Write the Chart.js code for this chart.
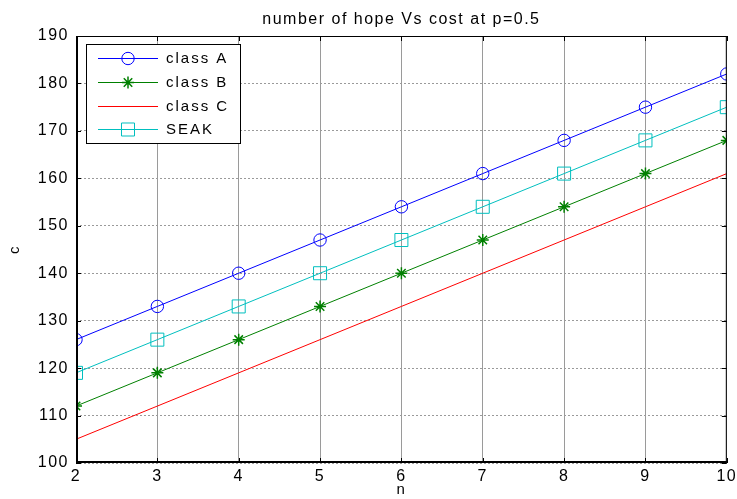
<!DOCTYPE html>
<html>
<head>
<meta charset="utf-8">
<script src="https://cdn.jsdelivr.net/npm/chart.js@4"></script>
<style>
  html, body { margin: 0; padding: 0; background: #fff; }
  #wrap { width: 737px; height: 499px; }
</style>
</head>
<body>
<div id="wrap"><canvas id="cost-chart" width="737" height="499"></canvas></div>
<script>
const hops = [2, 3, 4, 5, 6, 7, 8, 9, 10];
const classA = [126, 133, 140, 147, 154, 161, 168, 175, 182];
const classB = [112, 119, 126, 133, 140, 147, 154, 161, 168];
const classC = [105, 112, 119, 126, 133, 140, 147, 154, 161];
const seak = [119, 126, 133, 140, 147, 154, 161, 168, 175];
const yTicks = [100, 110, 120, 130, 140, 150, 160, 170, 180, 190];
const chartTitle = 'number of hope Vs cost at p=0.5';

const FONT = 'Arial, "Liberation Sans", sans-serif';
const SPACING = '1.5px';

function toPoints(values) {
  return values.map((v, i) => ({ x: hops[i], y: v }));
}

// the text in this figure is set a little wide, so spread the letters
const wideText = {
  id: 'wideText',
  beforeLayout(chart) { chart.ctx.letterSpacing = SPACING; },
  beforeDraw(chart) { chart.ctx.letterSpacing = SPACING; }
};

// title centred over the plot, box around the plot, inward ticks and the legend panel
const axesBox = {
  id: 'axesBox',
  afterDraw(chart) {
    const { ctx, chartArea: a, scales } = chart;
    ctx.save();

    ctx.fillStyle = '#000';
    ctx.font = '16px ' + FONT;
    ctx.letterSpacing = SPACING;
    ctx.textAlign = 'center';
    ctx.textBaseline = 'middle';
    ctx.fillText(chartTitle, (a.left + a.right) / 2, 20);

    ctx.strokeStyle = '#000';
    ctx.lineWidth = 1;
    ctx.strokeRect(a.left + 0.5, a.top + 0.5, a.right - a.left - 1, a.bottom - a.top - 1);
    ctx.beginPath();
    hops.forEach(h => {
      const x = Math.round(scales.x.getPixelForValue(h)) + 0.5;
      ctx.moveTo(x, a.bottom); ctx.lineTo(x, a.bottom - 5);
      ctx.moveTo(x, a.top); ctx.lineTo(x, a.top + 5);
    });
    yTicks.forEach(t => {
      const y = Math.round(scales.y.getPixelForValue(t)) + 0.5;
      ctx.moveTo(a.left, y); ctx.lineTo(a.left + 5, y);
      ctx.moveTo(a.right, y); ctx.lineTo(a.right - 5, y);
    });
    ctx.stroke();
    // heavier left and bottom axis lines
    ctx.lineWidth = 2;
    ctx.beginPath();
    ctx.moveTo(a.left + 1, a.top);
    ctx.lineTo(a.left + 1, a.bottom - 1);
    ctx.lineTo(a.right, a.bottom - 1);
    ctx.stroke();

    // legend
    const lx = 86, ly = 44, lw = 154, lh = 99;
    ctx.fillStyle = '#fff';
    ctx.fillRect(lx, ly, lw, lh);
    ctx.lineWidth = 1;
    ctx.strokeStyle = '#000';
    ctx.strokeRect(lx + 0.5, ly + 0.5, lw, lh);
    const rows = [58, 82, 106, 129];
    chart.data.datasets.forEach((ds, i) => {
      const y = rows[i] + 0.5;
      ctx.strokeStyle = ds.borderColor;
      ctx.lineWidth = 1;
      ctx.beginPath();
      ctx.moveTo(98, y); ctx.lineTo(158, y);
      ctx.stroke();
      if (ds.pointStyle && ds.pointRadius > 0) {
        ctx.fillStyle = 'rgba(0,0,0,0)';
        ctx.lineWidth = ds.pointBorderWidth;
        Chart.helpers.drawPoint(ctx, {
          pointStyle: ds.pointStyle,
          radius: ds.pointRadius,
          borderWidth: ds.pointBorderWidth,
          rotation: 0
        }, 128, y);
      }
      ctx.fillStyle = '#000';
      ctx.font = '15px ' + FONT;
      ctx.letterSpacing = '2px';
      ctx.textBaseline = 'middle';
      ctx.textAlign = 'left';
      ctx.fillText(ds.label, 166, rows[i] + 1);
    });
    ctx.restore();
  }
};

new Chart(document.getElementById('cost-chart'), {
  type: 'line',
  data: {
    datasets: [
      {
        label: 'class A',
        data: toPoints(classA),
        borderColor: '#0000ff',
        backgroundColor: 'rgba(0,0,0,0)',
        borderWidth: 1,
        pointStyle: 'circle',
        pointRadius: 6.2,
        pointBorderWidth: 1
      },
      {
        label: 'class B',
        data: toPoints(classB),
        borderColor: '#008000',
        backgroundColor: 'rgba(0,0,0,0)',
        borderWidth: 1,
        pointStyle: 'star',
        pointRadius: 6,
        pointBorderWidth: 1.5
      },
      {
        label: 'class C',
        data: toPoints(classC),
        borderColor: '#ff0000',
        backgroundColor: 'rgba(0,0,0,0)',
        borderWidth: 1,
        pointStyle: false,
        pointRadius: 0
      },
      {
        label: 'SEAK',
        data: toPoints(seak),
        borderColor: '#00bfbf',
        backgroundColor: 'rgba(0,0,0,0)',
        borderWidth: 1,
        pointStyle: 'rect',
        pointRadius: 9.2,
        pointBorderWidth: 1
      }
    ]
  },
  options: {
    responsive: false,
    animation: false,
    layout: { padding: { left: 0, right: 2, top: 36, bottom: 0 } },
    plugins: {
      legend: { display: false },
      tooltip: { enabled: false },
      title: { display: false }
    },
    scales: {
      x: {
        type: 'linear',
        min: 2,
        max: 10,
        afterFit(scale) {
          scale.height = 36;
          scale.paddingLeft = 0;
          scale.paddingRight = 0;
        },
        afterBuildTicks(scale) {
          scale.ticks = hops.map(v => ({ value: v }));
        },
        ticks: {
          color: '#000',
          font: { family: FONT, size: 16 },
          padding: 4,
          maxRotation: 0
        },
        grid: { color: '#9a9a9a', lineWidth: 1, drawTicks: false },
        border: { display: false },
        title: {
          display: true,
          text: 'n',
          color: '#000',
          font: { family: FONT, size: 15 },
          padding: { top: 7, bottom: 0 }
        }
      },
      y: {
        min: 100,
        max: 190,
        afterFit(scale) {
          scale.width = 76;
          scale.paddingTop = 0;
          scale.paddingBottom = 0;
        },
        afterBuildTicks(scale) {
          scale.ticks = yTicks.map(v => ({ value: v }));
        },
        ticks: {
          color: '#000',
          font: { family: FONT, size: 16 },
          padding: 7
        },
        grid: { color: '#9a9a9a', lineWidth: 1, drawTicks: false },
        border: { display: false, dash: [2, 2] },
        title: {
          display: true,
          text: 'c',
          color: '#000',
          font: { family: FONT, size: 15 },
          padding: { top: 6, bottom: 4 }
        }
      }
    }
  },
  plugins: [wideText, axesBox]
});
</script>
</body>
</html>
